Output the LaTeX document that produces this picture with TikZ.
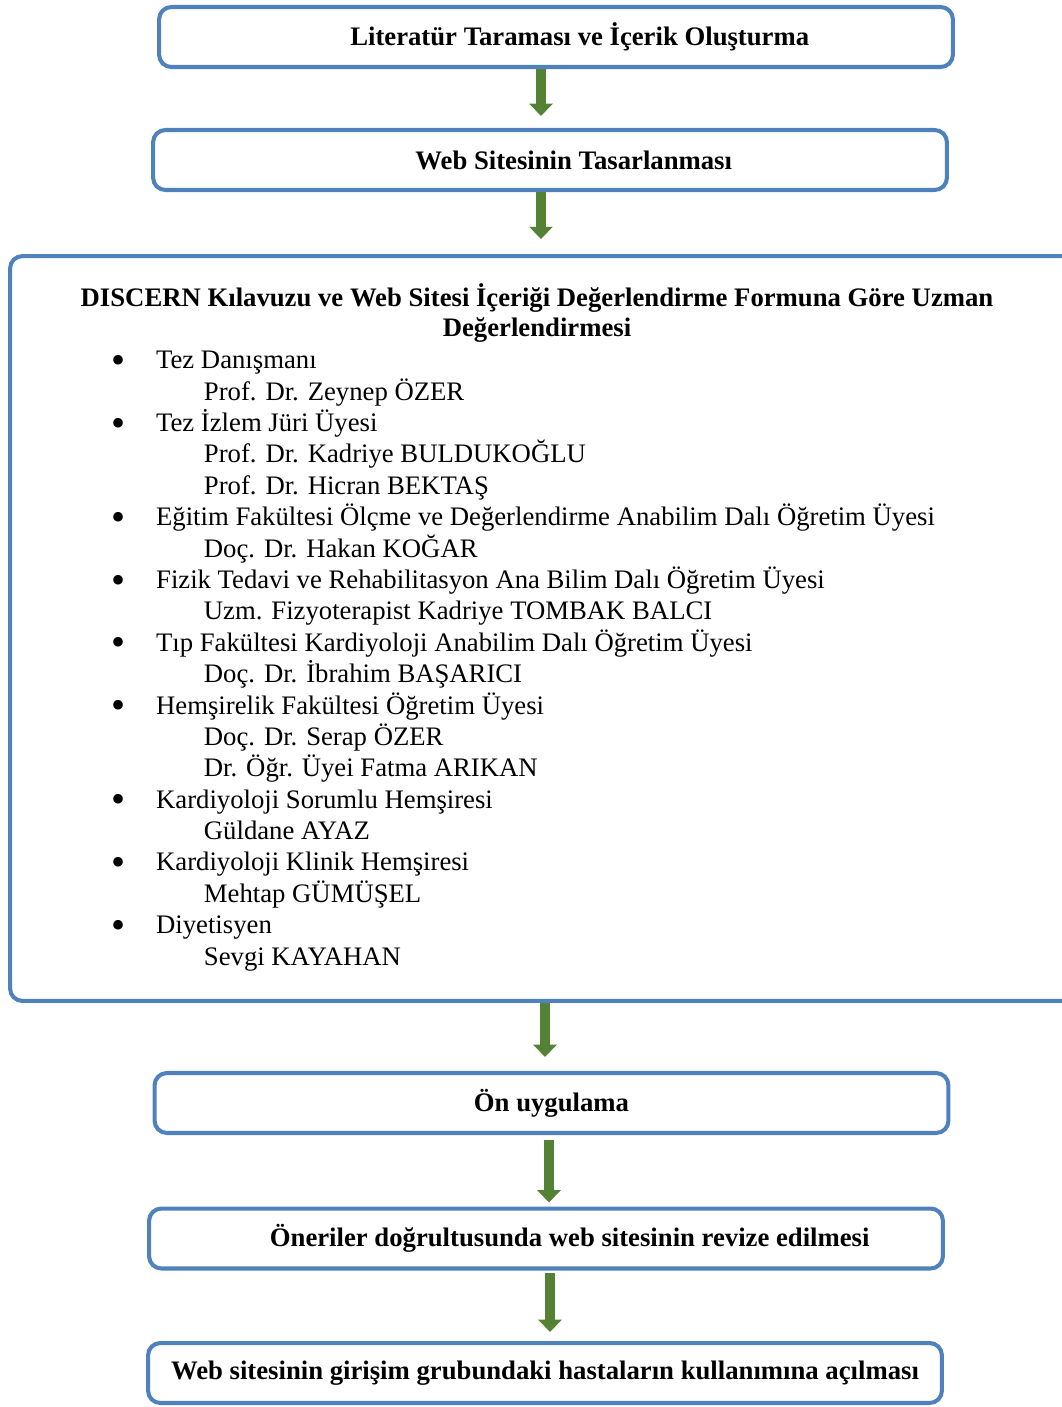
\documentclass[tikz,border=0pt]{standalone}
\usepackage{fontspec}
\setmainfont{Liberation Serif}
\usetikzlibrary{arrows.meta,positioning,calc}

\definecolor{boxblue}{RGB}{79,129,189}
\definecolor{arrowgreen}{RGB}{84,130,53}

% list entries in the review box
\newcommand\role{\makebox[25.5pt][l]{\raisebox{-0.17em}{\scalebox{1.5}{\textbullet}}}}
\newcommand\member{\hspace*{52.7pt}}

\begin{document}
\begin{tikzpicture}[
  x=0.02cm, y=-0.02cm,
  every node/.style={font=\fontsize{15.2}{17.86}\selectfont},
  stepbox/.style={draw=boxblue,line width=2.3pt,rounded corners=7pt,fill=white,
    minimum width=15.88cm,minimum height=1.2cm,inner sep=0pt,
    font=\bfseries\fontsize{15.2}{17.86}\selectfont},
  flow/.style={draw=arrowgreen,line width=5.7pt,-{Triangle[width=13pt,length=7pt]}}
]
\useasboundingbox (0,0) rectangle (1062,1407);
\clip (0,0) rectangle (1062,1407);

\node[stepbox] (lit) at (556,37) {\hspace*{27pt}Literatür Taraması ve İçerik Oluşturma};
\node[stepbox] (design) at (550,160) {\hspace*{27pt}Web Sitesinin Tasarlanması};
\node[stepbox,minimum width=21.4cm,minimum height=14.9cm] (review) at (545,628.5) {};
\node[stepbox] (pilot) at (551.5,1103) {Ön uygulama};
\node[stepbox] (revise) at (546,1238.5) {\hspace*{27pt}Öneriler doğrultusunda web sitesinin revize edilmesi};
\node[stepbox] (open) at (545,1373) {Web sitesinin girişim grubundaki hastaların kullanımına açılması};

\node[align=center,font=\bfseries\fontsize{15.2}{17.6}\selectfont] (title) at (537,313)
  {DISCERN Kılavuzu ve Web Sitesi İçeriği Değerlendirme Formuna Göre Uzman\\Değerlendirmesi};
\node[anchor=north west,align=left,inner sep=0pt] (experts) at (111,351) {%
\role Tez Danışmanı\\
\member Prof. Dr. Zeynep ÖZER\\
\role Tez İzlem Jüri Üyesi\\
\member Prof. Dr. Kadriye BULDUKOĞLU\\
\member Prof. Dr. Hicran BEKTAŞ\\
\role Eğitim Fakültesi Ölçme ve Değerlendirme Anabilim Dalı Öğretim Üyesi\\
\member Doç. Dr. Hakan KOĞAR\\
\role Fizik Tedavi ve Rehabilitasyon Ana Bilim Dalı Öğretim Üyesi\\
\member Uzm. Fizyoterapist Kadriye TOMBAK BALCI\\
\role Tıp Fakültesi Kardiyoloji Anabilim Dalı Öğretim Üyesi\\
\member Doç. Dr. İbrahim BAŞARICI\\
\role Hemşirelik Fakültesi Öğretim Üyesi\\
\member Doç. Dr. Serap ÖZER\\
\member Dr. Öğr. Üyei Fatma ARIKAN\\
\role Kardiyoloji Sorumlu Hemşiresi\\
\member Güldane AYAZ\\
\role Kardiyoloji Klinik Hemşiresi\\
\member Mehtap GÜMÜŞEL\\
\role Diyetisyen\\
\member Sevgi KAYAHAN};

\draw[flow] ($(lit.south)+(-15,0)$) -- ($(design.north)+(-9,-12)$);
\draw[flow] ($(design.south)+(-9,0)$) -- ($(review.north)+(-4,-15)$);
\draw[flow] ($(review.south)+(0,0)$) -- ($(pilot.north)+(-6.5,-14)$);
\draw[flow] ($(pilot.south)+(-2.5,5)$) -- ($(revise.north)+(3,-4)$);
\draw[flow] ($(revise.south)+(4,2)$) -- ($(open.north)+(5,-9)$);
\end{tikzpicture}
\end{document}
